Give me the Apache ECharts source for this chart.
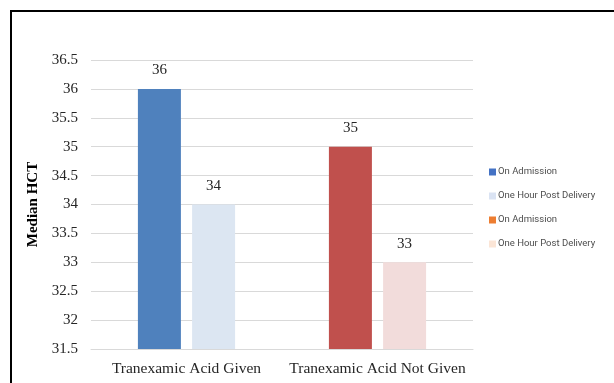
<!DOCTYPE html>
<html>
<head>
<meta charset="utf-8">
<script src="https://cdn.jsdelivr.net/npm/echarts@6/dist/echarts.min.js"></script>
<style>
  html, body { margin: 0; padding: 0; background: #fff; }
  #chart { width: 614px; height: 383px; }
</style>
</head>
<body>
<div id="chart"></div>
<script>
// Median haematocrit by tranexamic acid group
const categories = ['Tranexamic Acid Given', 'Tranexamic Acid Not Given'];
const givenAdmission = [36, null];
const givenPostDelivery = [34, null];
const notGivenAdmission = [null, 35];
const notGivenPostDelivery = [null, 33];
const yTicks = { min: 31.5, max: 36.5, step: 0.5 };

const serif = '"Liberation Serif", "Times New Roman", serif';

function barSeries(name, values, stack, legendColor, barColor) {
  return {
    name: name,
    type: 'bar',
    stack: stack,
    barWidth: 43,
    barGap: '26%',
    itemStyle: { color: legendColor },
    data: values.map(v => v === null ? null : { value: v, itemStyle: { color: barColor } }),
    label: {
      show: true,
      position: 'top',
      distance: 11,
      fontFamily: serif,
      fontSize: 15,
      color: '#262626'
    }
  };
}

const chart = echarts.init(document.getElementById('chart'));
chart.setOption({
  animation: false,
  grid: { left: 91, right: 141, top: 60, bottom: 34 },
  graphic: [{
    type: 'rect',
    shape: { x: 11, y: 11, width: 700, height: 500 },
    style: { fill: 'none', stroke: '#000', lineWidth: 2 },
    silent: true
  }],
  legend: {
    orient: 'vertical',
    left: 489,
    top: 167,
    padding: 0,
    itemWidth: 7,
    itemHeight: 7,
    itemGap: 14,
    icon: 'rect',
    textStyle: { fontFamily: '"Liberation Sans Narrow", "Roboto", sans-serif', fontSize: 9.5, color: '#4d4d4d', padding: [0, 0, 0, -3] },
    data: ['On Admission', 'One Hour Post Delivery', 'On Admission ', 'One Hour Post Delivery ']
  },
  xAxis: {
    type: 'category',
    data: categories,
    axisLine: { lineStyle: { color: '#d9d9d9', width: 1 } },
    axisTick: { show: false },
    axisLabel: { interval: 0, fontFamily: serif, fontSize: 15.5, color: '#262626', margin: 12 }
  },
  yAxis: {
    type: 'value',
    min: yTicks.min,
    max: yTicks.max,
    interval: yTicks.step,
    name: 'Median HCT',
    nameLocation: 'middle',
    nameGap: 50,
    nameTextStyle: { fontFamily: serif, fontSize: 15, fontWeight: 'bold', color: '#000' },
    axisLine: { show: false },
    axisTick: { show: false },
    axisLabel: { fontFamily: serif, fontSize: 15, color: '#262626', margin: 13 },
    splitLine: { lineStyle: { color: '#d9d9d9', width: 1 } }
  },
  series: [
    barSeries('On Admission', givenAdmission, 'admission', '#4472C4', '#4F81BD'),
    barSeries('One Hour Post Delivery', givenPostDelivery, 'post', '#DAE3F3', '#DCE6F2'),
    barSeries('On Admission ', notGivenAdmission, 'admission', '#ED7D31', '#C0504D'),
    barSeries('One Hour Post Delivery ', notGivenPostDelivery, 'post', '#FBE5D6', '#F2DCDB')
  ]
});
</script>
</body>
</html>
